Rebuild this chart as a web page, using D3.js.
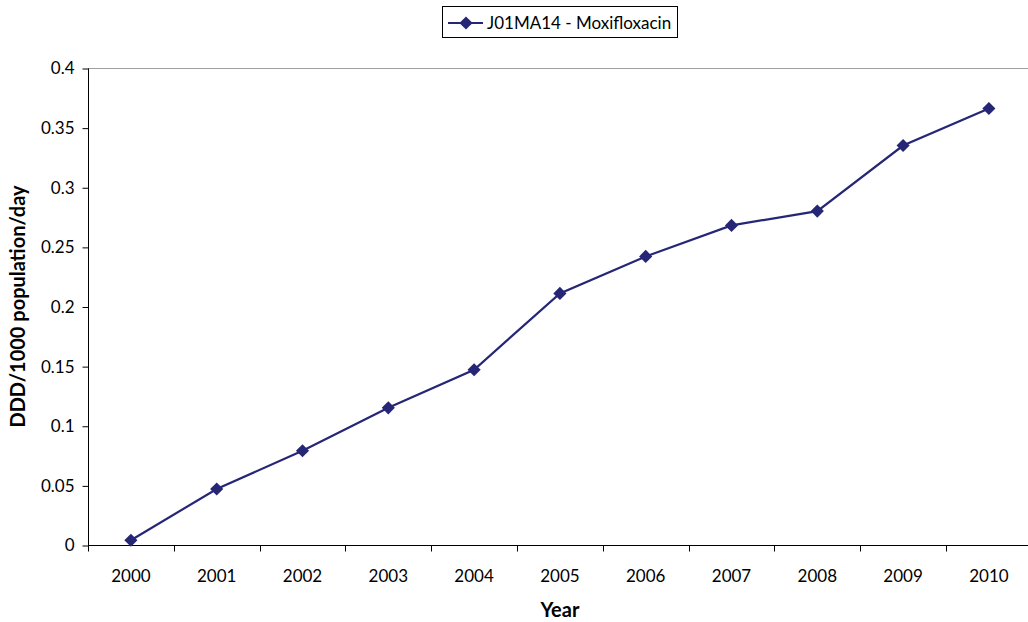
<!DOCTYPE html>
<html>
<head>
<meta charset="utf-8">
<script src="https://cdn.jsdelivr.net/npm/d3@7"></script>
<style>
  html, body { margin: 0; padding: 0; background: #fff; }
  svg { display: block; font-family: Lato, "Open Sans", sans-serif; }
</style>
</head>
<body>
<div id="chart"></div>
<script>
  // Data
  const years = ['2000', '2001', '2002', '2003', '2004', '2005', '2006', '2007', '2008', '2009', '2010'];
  const ddd = [0.004, 0.047, 0.079, 0.115, 0.147, 0.211, 0.242, 0.268, 0.280, 0.335, 0.366];
  const yTicks = [0, 0.05, 0.1, 0.15, 0.2, 0.25, 0.3, 0.35, 0.4];
  const seriesName = 'J01MA14 - Moxifloxacin';

  const width = 1028, height = 622;
  const color = '#262676';

  const svg = d3.select('#chart').append('svg')
    .attr('width', width)
    .attr('height', height);

  // plot area
  const plotLeft = 88, plotTop = 68, plotBottom = 545;
  const band = 85.8;

  const x = d3.scaleBand()
    .domain(years)
    .range([plotLeft, plotLeft + band * years.length])
    .padding(0);

  const y = d3.scaleLinear()
    .domain([0, 0.4])
    .range([plotBottom, plotTop]);

  // top border of plot area
  svg.append('line')
    .attr('x1', plotLeft).attr('x2', width)
    .attr('y1', y(0.4) + 0.5).attr('y2', y(0.4) + 0.5)
    .attr('stroke', '#a0a0a0')
    .attr('stroke-width', 1);

  // y axis
  const yAxis = svg.append('g')
    .attr('transform', `translate(${plotLeft + 0.5},0.5)`)
    .call(d3.axisLeft(y).tickValues(yTicks).tickSize(6).tickPadding(8)
      .tickFormat(d => String(+d.toFixed(2))));
  yAxis.select('.domain').attr('d', `M0,${plotTop}V${plotBottom}`).attr('stroke', '#000');
  yAxis.selectAll('.tick line').attr('stroke', '#000');
  yAxis.selectAll('text')
    .style('font-size', '17px')
    .style('fill', '#000')
    .style('font-family', 'Lato, "Open Sans", sans-serif');

  // x axis: ticks sit on category boundaries
  const xAxis = svg.append('g')
    .attr('transform', `translate(0,${plotBottom + 0.5})`);
  xAxis.append('line')
    .attr('x1', plotLeft).attr('x2', width)
    .attr('stroke', '#000');
  xAxis.selectAll('.xtick')
    .data(years)
    .enter()
    .append('line')
    .attr('class', 'xtick')
    .attr('x1', d => Math.round(x(d)) + 0.5)
    .attr('x2', d => Math.round(x(d)) + 0.5)
    .attr('y1', 0).attr('y2', 6)
    .attr('stroke', '#000');
  xAxis.selectAll('.xlabel')
    .data(years)
    .enter()
    .append('text')
    .attr('class', 'xlabel')
    .attr('x', d => x(d) + x.bandwidth() / 2)
    .attr('y', 36)
    .attr('text-anchor', 'middle')
    .style('font-size', '17px')
    .text(d => d);

  // axis titles
  svg.append('text')
    .attr('x', x('2005') + x.bandwidth() / 2)
    .attr('y', 617)
    .attr('text-anchor', 'middle')
    .style('font-size', '20px')
    .style('font-weight', '700')
    .text('Year');

  svg.append('text')
    .attr('transform', `translate(25,${(plotTop + plotBottom) / 2}) rotate(-90)`)
    .attr('text-anchor', 'middle')
    .style('font-size', '20px')
    .style('font-weight', '700')
    .text('DDD/1000 population/day');

  // series
  const points = years.map((yr, i) => ({ year: yr, value: ddd[i] }));
  const line = d3.line()
    .x(d => x(d.year) + x.bandwidth() / 2)
    .y(d => y(d.value));

  svg.append('path')
    .datum(points)
    .attr('d', line)
    .attr('fill', 'none')
    .attr('stroke', color)
    .attr('stroke-width', 2.2);

  const diamond = d3.symbol().type(d3.symbolDiamond2).size(110);
  svg.selectAll('.pt')
    .data(points)
    .enter()
    .append('path')
    .attr('class', 'pt')
    .attr('d', diamond)
    .attr('transform', d => `translate(${x(d.year) + x.bandwidth() / 2},${y(d.value)})`)
    .attr('fill', color);

  // legend
  const legend = svg.append('g').attr('transform', 'translate(442,6)');
  legend.append('rect')
    .attr('x', 0.5).attr('y', 0.5)
    .attr('width', 235).attr('height', 31)
    .attr('fill', '#fff')
    .attr('stroke', '#000');
  legend.append('line')
    .attr('x1', 6).attr('x2', 41)
    .attr('y1', 17).attr('y2', 17)
    .attr('stroke', color)
    .attr('stroke-width', 2.2);
  legend.append('path')
    .attr('d', diamond)
    .attr('transform', 'translate(24,17)')
    .attr('fill', color);
  legend.append('text')
    .attr('x', 45)
    .attr('y', 23)
    .style('font-size', '17px')
    .text(seriesName);
</script>
</body>
</html>
